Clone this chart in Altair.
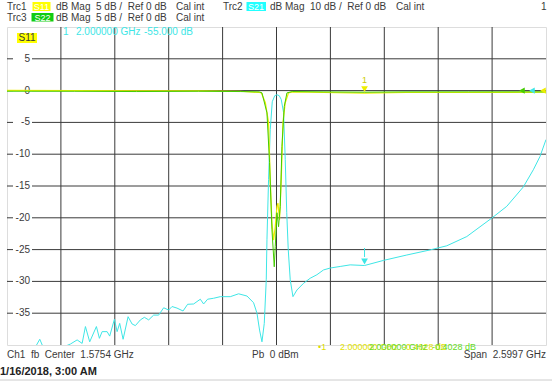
import altair as alt
import pandas as pd

# ---------------- data ----------------
center_ghz = 1.5754
span_ghz = 2.5997
f_start = center_ghz - span_ghz / 2
f_stop = center_ghz + span_ghz / 2

y_tick_values = [5, 0, -5, -10, -15, -20, -25, -30, -35]
y_tick_labels = ["5", "0", "-5", "-10", "-15", "-20", "-25", "-30", "-35"]

# S21 (cyan), 10 dB/div, Ref 0 dB
s21_freq = [0.2756, 0.3406, 0.4129, 0.4336, 0.4514, 0.5093, 0.5478, 0.5815, 0.6138, 0.6379,
            0.6538, 0.6745, 0.7068, 0.7213, 0.7343, 0.7584, 0.7709, 0.7936, 0.8066, 0.8191,
            0.8355, 0.8596, 0.8789, 0.8948, 0.9189, 0.9381, 0.9589, 0.9829, 1.0070, 1.0311,
            1.0552, 1.0716, 1.0957, 1.1246, 1.1468, 1.1757, 1.2080, 1.2239, 1.2432, 1.2721,
            1.3044, 1.3526, 1.3926, 1.4330, 1.4648, 1.4812, 1.4937, 1.5053, 1.5164, 1.5260,
            1.5294, 1.5371, 1.5453, 1.5549, 1.5670, 1.5776, 1.5887, 1.5983, 1.6094, 1.6176,
            1.6248, 1.6321, 1.6417, 1.6547, 1.6740, 1.7058, 1.7381, 1.7703, 1.8021, 1.8344,
            1.8826, 1.9308, 2.0000, 2.0913, 2.2040, 2.3163, 2.3968, 2.4932, 2.6136, 2.6859,
            2.7659, 2.8141, 2.8464, 2.8753]
s21_db = [-84.7, -83.1, -80.6, -78.2, -80.9, -82.2, -80.6, -79.7, -78.4, -79.5,
          -74.2, -79.0, -74.2, -77.9, -75.8, -75.8, -77.2, -71.9, -75.8, -73.2,
          -78.2, -71.1, -73.4, -73.9, -72.1, -71.3, -72.1, -70.6, -70.6, -68.3,
          -69.0, -67.9, -68.4, -69.3, -67.2, -67.1, -65.6, -67.1, -65.6, -65.3,
          -64.8, -64.8, -63.9, -64.6, -66.7, -70.0, -75.3, -79.0, -73.2, -59.5,
          -46.9, -28.0, -12.3, -3.5, -1.6, -1.3, -1.6, -2.8, -6.9, -21.7,
          -38.4, -50.1, -59.5, -64.8, -62.7, -60.6, -59.0, -57.9, -56.4, -55.8,
          -55.3, -54.8, -55.0, -53.4, -51.7, -50.1, -48.8, -45.9, -40.1, -36.4,
          -30.3, -24.9, -20.7, -15.4]

# S11 (yellow), 5 dB/div, Ref 0 dB
s11_freq = [0.2756, 0.60, 0.90, 1.20, 1.40, 1.4926, 1.5022, 1.5217, 1.5371, 1.5453,
            1.5534, 1.5612, 1.5694, 1.5776, 1.5824, 1.5901, 1.5983, 1.6065, 1.6176, 1.6335,
            1.6513, 1.80, 2.00, 2.20, 2.50, 2.8753]
s11_db = [0.05, 0.0, -0.05, -0.05, -0.1, -0.3, -0.36, -1.9, -5.0, -14.0,
          -20.8, -23.5, -21.4, -18.2, -17.7, -20.3, -14.0, -5.0, -1.9, -0.36,
          -0.2, -0.3, -0.4028, -0.3, -0.3, -0.25]

# S22 (green), 5 dB/div, Ref 0 dB
s22_freq = [0.2756, 0.60, 0.90, 1.20, 1.40, 1.4926, 1.5053, 1.5294, 1.5419, 1.5534,
            1.5646, 1.5694, 1.5776, 1.5853, 1.5935, 1.6017, 1.6128, 1.6258, 1.6513, 1.80,
            2.00, 2.20, 2.50, 2.8753]
s22_db = [-0.1, -0.1, -0.15, -0.1, -0.15, -0.2, -0.36, -3.5, -11.3, -21.9,
          -27.7, -24.5, -19.2, -21.4, -18.2, -8.8, -2.5, -0.36, -0.15, -0.2,
          -0.25, -0.2, -0.2, -0.2]

marker_freq = 2.0
marker_s11_db = -0.4028
marker_s21_db = -55.0

# ---------------- styling ----------------
W, H = 539, 318
FONT = "Liberation Sans"
YELLOW = "#eeee00"
GREEN = "#44cc00"
CYAN = "#3ee6e6"
GRID = "#3a3a3a"
TXT = "#3a3a3a"
S = "\u00a0"  # non-collapsing space

xscale = alt.Scale(domain=[f_start, f_stop], nice=False, zero=False)
yscale = alt.Scale(domain=[-40, 10], nice=False, zero=False)
x_grid_vals = [f_start + i * span_ghz / 10 for i in range(1, 10)]
y_grid_vals = list(range(-35, 10, 5))

s21_df = pd.DataFrame({"f": s21_freq, "db": s21_db})
s11_df = pd.DataFrame({"f": s11_freq, "db": s11_db})
s22_df = pd.DataFrame({"f": s22_freq, "db": s22_db})
ylab_df = pd.DataFrame({"v": y_tick_values, "t": y_tick_labels})
mk_df = pd.DataFrame({"f": [marker_freq], "s11": [marker_s11_db], "s21": [marker_s21_db]})
xg_df = pd.DataFrame({"f": x_grid_vals})
yg_df = pd.DataFrame({"v": y_grid_vals})
one = pd.DataFrame({"a": [0]})

X = lambda: alt.X("f:Q", scale=xscale, axis=None)

vgrid = alt.Chart(xg_df).mark_rule(color=GRID, strokeWidth=1).encode(x=X())
hgrid = alt.Chart(yg_df).mark_rule(color=GRID, strokeWidth=1).encode(
    y=alt.Y("v:Q", scale=yscale, axis=None))

label_gap = alt.Chart(ylab_df).mark_rule(color="white", strokeWidth=8).encode(
    x=alt.value(6), x2=alt.value(25), y=alt.Y("v:Q", scale=yscale, axis=None))
label_txt = alt.Chart(ylab_df).mark_text(align="right", baseline="middle", font=FONT,
                                         fontSize=10, color=TXT).encode(
    x=alt.value(23), y=alt.Y("v:Q", scale=yscale, axis=None), text="t:N")

s21_line = alt.Chart(s21_df).transform_calculate(disp="datum.db / 2").mark_line(
    color=CYAN, strokeWidth=1, clip=True).encode(
    x=X(), y=alt.Y("disp:Q", scale=yscale, axis=None))
s11_line = alt.Chart(s11_df).mark_line(color=YELLOW, strokeWidth=1.2, clip=True).encode(
    x=X(), y=alt.Y("db:Q", scale=yscale, axis=None))
s22_line = alt.Chart(s22_df).mark_line(color=GREEN, strokeWidth=1, clip=True).encode(
    x=X(), y=alt.Y("db:Q", scale=yscale, axis=None))

mk_s11 = alt.Chart(mk_df).mark_point(shape="triangle-down", filled=True, size=45,
                                     color=YELLOW, opacity=1, yOffset=-4).encode(
    x=X(), y=alt.Y("s11:Q", scale=yscale, axis=None))
mk_s11_lbl = alt.Chart(mk_df).mark_text(font=FONT, fontSize=9, color="#cccc00",
                                         yOffset=-13).encode(
    x=X(), y=alt.Y("s11:Q", scale=yscale, axis=None), text=alt.value("1"))
mk_s21 = alt.Chart(mk_df).transform_calculate(disp="datum.s21 / 2").mark_point(
    shape="triangle-down", filled=True, size=45, color=CYAN, opacity=1, yOffset=-4).encode(
    x=X(), y=alt.Y("disp:Q", scale=yscale, axis=None))


def arrow(px, col):
    return alt.Chart(one).mark_point(shape="triangle-left", filled=True, size=40,
                                     color=col, opacity=1).encode(
        x=alt.value(px), y=alt.datum(0, scale=yscale))


def txt(s, px, py, col=TXT, align="left", size=10, weight="normal"):
    return alt.Chart(one).mark_text(text=s, align=align, baseline="middle", font=FONT,
                                    fontSize=size, color=col, fontWeight=weight).encode(
        x=alt.value(px), y=alt.value(py))


def box(x1, x2, y1, y2, col):
    return alt.Chart(one).mark_rect(color=col).encode(
        x=alt.value(x1), x2=alt.value(x2), y=alt.value(y1), y2=alt.value(y2))


stub = alt.Chart(one).mark_rule(color=CYAN).encode(
    x=alt.datum(marker_freq, scale=xscale), y=alt.value(221), y2=alt.value(230))

hdr5 = f"dB Mag{S} 5 dB /{S} Ref 0 dB"
hdr10 = f"dB Mag{S} 10 dB /{S} Ref 0 dB"

layers = [
    vgrid, hgrid, label_gap, label_txt,
    s21_line, s11_line, s22_line,
    mk_s11, mk_s11_lbl, mk_s21, stub,
    arrow(515, GREEN), arrow(525, CYAN), arrow(536, YELLOW),
    # header
    txt("Trc1", 0, -20.5), box(25.5, 43.5, -25, -16, "#ffff00"),
    txt("S11", 34.5, -20.5, "white", "center", 9),
    txt(hdr5, 49, -20.5), txt("Cal int", 169, -20.5),
    txt("Trc2", 216, -20.5), box(239.5, 259, -25, -16, "#22ffff"),
    txt("S21", 249, -20.5, "white", "center", 9),
    txt(hdr10, 263, -20.5), txt("Cal int", 389, -20.5),
    txt("1", 534, -20.5),
    txt("Trc3", 0, -9.5), box(24.5, 46.5, -14, -5.5, "#11cc11"),
    txt("S22", 35.5, -9.5, "white", "center", 9),
    txt(hdr5, 49, -9.5), txt("Cal int", 169, -9.5),
    # in-plot labels
    box(10, 30, 6, 16, "#ffff00"), txt("S11", 20, 11, TXT, "center"),
    txt("1", 56, 5, CYAN), txt("2.000000 GHz", 69, 5, CYAN), txt("-55.000 dB", 137, 5, CYAN),
    # footer
    txt("•1", 311, 320, "#dddd00", size=9),
    txt(f"2.000000 GHz{S} -0.4028 dB", 333, 320, "#e4e400", size=9),
    txt(f"2.000000 GHz{S} -0.4028 dB", 362, 320, "#66dd22", size=9),
    txt(f"Ch1{S} fb{S} Center{S} 1.5754 GHz", 0, 328),
    txt(f"Pb{S} 0 dBm", 245, 328),
    txt(f"Span{S} 2.5997 GHz", 539, 328, align="right"),
    txt("1/16/2018, 3:00 AM", -7, 345, "#222222", size=11, weight="bold"),
    alt.Chart(one).mark_rule(color="#cccccc").encode(
        x=alt.value(-7), x2=alt.value(545), y=alt.value(353)),
]

chart = alt.layer(*layers).properties(
    width=W, height=H,
    autosize=alt.AutoSizeParams(type="none"),
    padding={"left": 7, "top": 27, "right": 6, "bottom": 36},
).configure_view(stroke="#333333", strokeWidth=1.2).configure(background="white")

chart.save("out.html", embed_options={"renderer": "svg", "actions": False})
